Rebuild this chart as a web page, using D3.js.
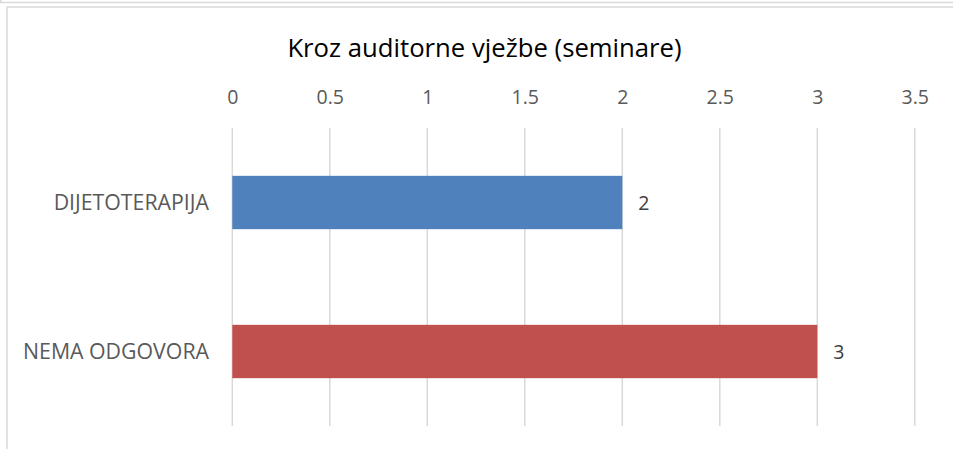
<!DOCTYPE html>
<html>
<head>
<meta charset="utf-8">
<script src="https://cdn.jsdelivr.net/npm/d3@7/dist/d3.min.js"></script>
<style>
  html, body { margin: 0; padding: 0; background: #fff; }
  svg { display: block; }
  text { font-family: "Open Sans", Lato, sans-serif; }
</style>
</head>
<body>
<svg id="chart" width="953" height="449"></svg>
<script>
// Chart data
const title = "Kroz auditorne vježbe (seminare)";
const categories = ["DIJETOTERAPIJA", "NEMA ODGOVORA"];
const values = [2, 3];
const colors = ["#4F81BD", "#C0504D"];
const tickValues = [0, 0.5, 1, 1.5, 2, 2.5, 3, 3.5];

const svg = d3.select("#chart");
const W = 953, H = 449;
const FONT = "'Open Sans', Lato, sans-serif";

// Frame lines around the chart object
svg.append("line").attr("x1", 0).attr("x2", W).attr("y1", 2.5).attr("y2", 2.5)
  .attr("stroke", "#D9D9D9").attr("stroke-width", 1.5);
svg.append("line").attr("x1", 0.75).attr("x2", 0.75).attr("y1", 0).attr("y2", 2.5)
  .attr("stroke", "#D9D9D9").attr("stroke-width", 1.5);
svg.append("rect").attr("x", 7).attr("y", 7).attr("width", W + 20).attr("height", H + 20)
  .attr("fill", "#fff").attr("stroke", "#D9D9D9").attr("stroke-width", 1.5);

const plot = { left: 232.3, right: 914.8, top: 128, bottom: 426 };

const x = d3.scaleLinear().domain([0, 3.5]).range([plot.left, plot.right]);
const y = d3.scaleBand().domain(categories).range([plot.top, plot.bottom]).padding(0);
const barFrac = 0.358;

// Title
svg.append("text")
  .attr("x", 484.5).attr("y", 57)
  .attr("text-anchor", "middle")
  .attr("font-size", 25.7)
  .attr("fill", "#000")
  .text(title);

// Vertical gridlines
svg.append("g").selectAll("line").data(tickValues).join("line")
  .attr("x1", d => x(d)).attr("x2", d => x(d))
  .attr("y1", plot.top).attr("y2", plot.bottom)
  .attr("stroke", "#D9D9D9").attr("stroke-width", 1.5);

// Top axis tick labels
const axis = d3.axisTop(x).tickValues(tickValues).tickSize(0).tickPadding(0)
  .tickFormat(d3.format("~g"));
const gAxis = svg.append("g").attr("transform", `translate(0,104)`).call(axis);
gAxis.select(".domain").remove();
gAxis.selectAll("text")
  .attr("font-family", FONT)
  .attr("font-size", 19.5).attr("fill", "#595959").attr("dy", 0);

// Bars
svg.append("g").selectAll("rect").data(values).join("rect")
  .attr("x", x(0))
  .attr("y", (d, i) => y(categories[i]) + y.bandwidth() * (1 - barFrac) / 2)
  .attr("width", d => x(d) - x(0))
  .attr("height", y.bandwidth() * barFrac)
  .attr("fill", (d, i) => colors[i]);

// Value labels
svg.append("g").selectAll("text").data(values).join("text")
  .attr("x", d => x(d) + 16)
  .attr("y", (d, i) => y(categories[i]) + y.bandwidth() / 2 + 7)
  .attr("font-size", 19.5).attr("fill", "#404040")
  .text(d => d);

// Category labels
svg.append("g").selectAll("text").data(categories).join("text")
  .attr("x", 209)
  .attr("y", d => y(d) + y.bandwidth() / 2 + 7)
  .attr("text-anchor", "end")
  .attr("font-size", 21.3).attr("fill", "#595959")
  .text(d => d);
</script>
</body>
</html>
